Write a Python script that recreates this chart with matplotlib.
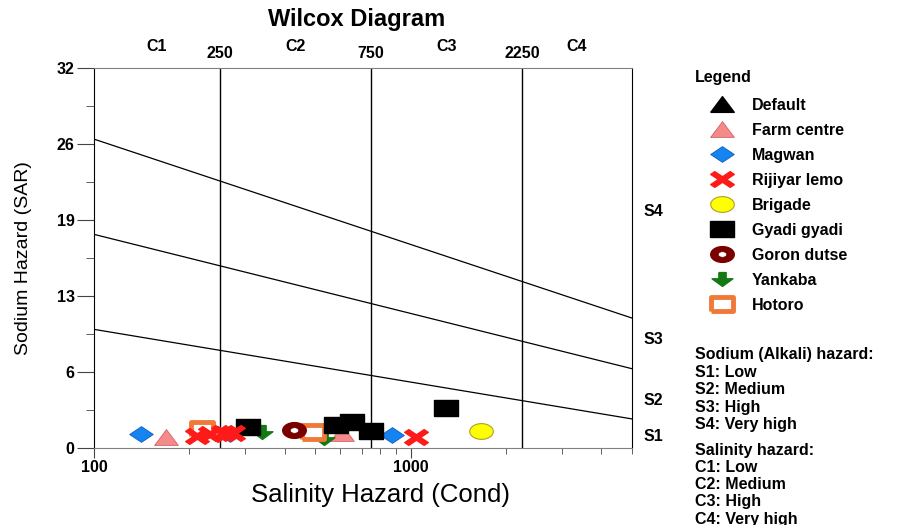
import matplotlib
matplotlib.use("Agg")
import matplotlib.pyplot as plt
import numpy as np
from matplotlib.transforms import blended_transform_factory
from matplotlib.legend_handler import HandlerTuple
from matplotlib.ticker import FixedLocator, NullFormatter

plt.rcParams['font.family'] = ['Liberation Sans', 'DejaVu Sans']

# ---- data ----
sites = ["Default", "Farm centre", "Magwan", "Rijiyar lemo", "Brigade",
         "Gyadi gyadi", "Goron dutse", "Yankaba", "Hotoro"]

default_cond = []
default_sar = []
farm_cond = [169, 607]
farm_sar = [0.9, 1.3]
magwan_cond = [141, 268, 871]
magwan_sar = [1.2, 1.2, 1.1]
rijiyar_cond = [212, 232, 255, 274, 1037]
rijiyar_sar = [1.05, 1.2, 1.25, 1.3, 0.95]
brigade_cond = [1671]
brigade_sar = [1.45]
gyadi_cond = [307, 579, 652, 747, 1297]
gyadi_sar = [1.8, 1.95, 2.2, 1.45, 3.35]
goron_cond = [429]
goron_sar = [1.5]
yankaba_cond = [340, 532]
yankaba_sar = [1.35, 0.85]
hotoro_cond = [220, 492]
hotoro_sar = [1.6, 1.35]

# salinity class boundaries and labels
c_bounds = [250, 750, 2250]
c_names = ["C1", "C2", "C3", "C4"]
c_centres = [158, 433, 1299, 3354]

# sodium hazard boundary lines: SAR = a - b*log10(cond)
s_lines_a = [18.87, 31.31, 43.75]
s_lines_b = [4.44, 6.66, 8.87]
s_names = ["S1", "S2", "S3", "S4"]
s_label_y = [1.0, 4.0, 9.1, 19.9]

ytick_vals = [0, 6.4, 12.8, 19.2, 25.6, 32]
ytick_labels = ["0", "6", "13", "19", "26", "32"]
yminor_vals = [3.2, 9.6, 16.0, 22.4, 28.8]

notes_sodium = ["Sodium (Alkali) hazard:", "S1: Low", "S2: Medium", "S3: High", "S4: Very high"]
notes_salinity = ["Salinity hazard:", "C1: Low", "C2: Medium", "C3: High", "C4: Very high"]

# ---- wide marker shapes (the picture is stretched sideways) ----
sx = 1.5
m_tri = [(-sx, -1), (sx, -1), (0, 1), (-sx, -1)]
m_dia = [(-sx, 0), (0, 1), (sx, 0), (0, -1), (-sx, 0)]
m_sq = [(-sx, -1), (sx, -1), (sx, 1), (-sx, 1), (-sx, -1)]
t = np.linspace(0, 2 * np.pi, 41)
m_ell = list(zip(sx * np.cos(t), np.sin(t)))
w = 0.35
m_x = [(0, w), (1 - w, 1), (1, 1 - w), (w, 0), (1, -(1 - w)), (1 - w, -1),
       (0, -w), (-(1 - w), -1), (-1, -(1 - w)), (-w, 0), (-1, 1 - w), (-(1 - w), 1), (0, w)]
m_x = [(a * sx, b) for a, b in m_x]
m_arr = [(-0.35, 1), (0.35, 1), (0.35, 0.1), (1, 0.1), (0, -1), (-1, 0.1), (-0.35, 0.1), (-0.35, 1)]
m_arr = [(a * sx, b) for a, b in m_arr]

fs = 11.5

fig = plt.figure(figsize=(9.09, 5.25), dpi=100)
ax = fig.add_axes([0.1034, 0.1467, 0.5919, 0.7238])
ax.set_xscale("log")
ax.set_xlim(100, 5000)
ax.set_ylim(0, 32)

for c in c_bounds:
    ax.axvline(c, color="black", lw=1.0, zorder=1)
xx = np.logspace(2, np.log10(5000), 50)
for a, b in zip(s_lines_a, s_lines_b):
    ax.plot(xx, a - b * np.log10(xx), color="black", lw=0.9, zorder=1)

ms = 17
h = []
h.append(ax.plot(default_cond, default_sar, ls="none", marker=m_tri, ms=ms, color="black")[0])
h.append(ax.plot(farm_cond, farm_sar, ls="none", marker=m_tri, ms=ms, mfc="#f58a8a", mec="#d06060",
                 mew=0.6, zorder=3)[0])
h.append(ax.plot(magwan_cond, magwan_sar, ls="none", marker=m_dia, ms=ms, mfc="#1584f0", mec="#0b5cc0",
                 mew=0.6, zorder=3)[0])
h.append(ax.plot(rijiyar_cond, rijiyar_sar, ls="none", marker=m_x, ms=ms, color="#ff1a1a", zorder=5)[0])
h.append(ax.plot(brigade_cond, brigade_sar, ls="none", marker=m_ell, ms=ms, mfc="#ffff00", mec="#b0a020",
                 mew=0.8, zorder=4)[0])
h.append(ax.plot(gyadi_cond, gyadi_sar, ls="none", marker=m_sq, ms=ms, color="black", zorder=4)[0])
g1 = ax.plot(goron_cond, goron_sar, ls="none", marker=m_ell, ms=ms, color="#7a0000", zorder=4)[0]
g2 = ax.plot(goron_cond, goron_sar, ls="none", marker=m_ell, ms=6, mfc="white", mec="#7a0000",
             mew=0.5, zorder=4.1)[0]
h.append((g1, g2))
h.append(ax.plot(yankaba_cond, yankaba_sar, ls="none", marker=m_arr, ms=ms - 2, color="#137a13", zorder=3.5)[0])
h.append(ax.plot(hotoro_cond, hotoro_sar, ls="none", marker=m_sq, ms=ms - 1, mfc="white", mec="#f07838",
                 mew=3.5, zorder=3.8)[0])

# axes styling
ax.set_yticks(ytick_vals)
ax.set_yticklabels(ytick_labels, fontweight="bold", fontsize=fs)
ax.yaxis.set_minor_locator(FixedLocator(yminor_vals))
ax.set_xticks([100, 1000])
ax.set_xticklabels(["100", "1000"], fontweight="bold", fontsize=fs)
ax.xaxis.set_minor_formatter(NullFormatter())
ax.tick_params(axis="both", which="both", direction="out", color="#444444")
ax.tick_params(axis="x", which="major", length=7.5, pad=1)
ax.tick_params(axis="x", which="minor", length=4.5)
ax.tick_params(axis="y", which="major", length=12, pad=2)
ax.tick_params(axis="y", which="minor", length=6)
for s in ["top", "bottom"]:
    ax.spines[s].set_color("#808080")
ax.spines["left"].set_color("black")
ax.spines["right"].set_color("black")

ax.set_xlabel("Salinity Hazard (Cond)", fontsize=18.5, labelpad=6, x=0.532)
ax.set_ylabel("Sodium Hazard (SAR)", fontsize=14, labelpad=18)
fig.text(0.392, 0.962, "Wilcox Diagram", ha="center", va="center", fontsize=17, fontweight="bold")

tr = blended_transform_factory(ax.transData, ax.transAxes)
for c in c_bounds:
    ax.text(c, 1.037, str(c), transform=tr, ha="center", va="center", fontsize=fs, fontweight="bold")
for c, n in zip(c_centres, c_names):
    ax.text(c, 1.057, n, transform=tr, ha="center", va="center", fontsize=fs, fontweight="bold")

tr2 = blended_transform_factory(ax.transAxes, ax.transData)
for yv, n in zip(s_label_y, s_names):
    ax.text(1.022, yv, n, transform=tr2, ha="left", va="center", fontsize=fs, fontweight="bold")

leg = ax.legend(h, sites, loc="upper left", bbox_to_anchor=(0.7575, 0.878), bbox_transform=fig.transFigure,
                frameon=False, title="Legend", prop={"weight": "bold", "size": fs},
                title_fontproperties={"weight": "bold", "size": fs},
                labelspacing=0.63, handlelength=3.4, handletextpad=0.15, borderaxespad=0,
                handler_map={tuple: HandlerTuple(ndivide=1)})
leg._legend_box.align = "left"
leg._legend_box.sep = 0.63 * fs + 1.5

y0 = 1 - 355 / 525
for i, line in enumerate(notes_sodium):
    fig.text(0.7646, y0 - i * 17.5 / 525, line, ha="left", va="center", fontsize=fs, fontweight="bold")
y1 = 1 - 450 / 525
for i, line in enumerate(notes_salinity):
    fig.text(0.7646, y1 - i * 17.3 / 525, line, ha="left", va="center", fontsize=fs, fontweight="bold")

fig.savefig("out.png", dpi=100)
